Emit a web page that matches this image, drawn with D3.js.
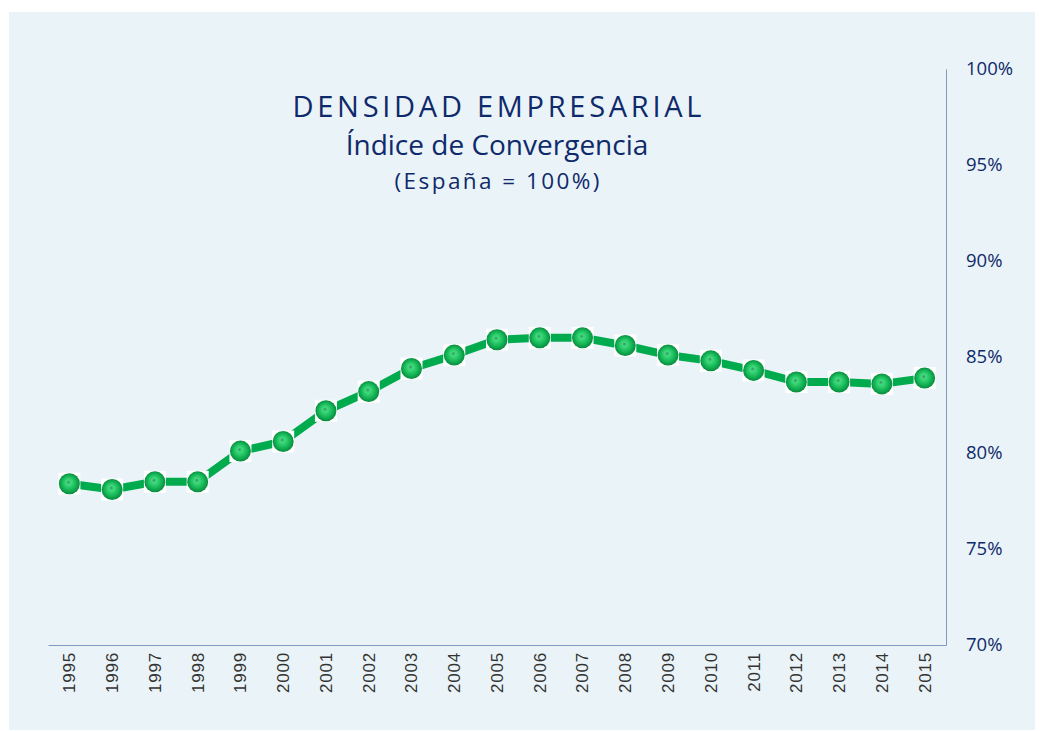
<!DOCTYPE html>
<html>
<head>
<meta charset="utf-8">
<script src="https://cdn.jsdelivr.net/npm/d3@7"></script>
<style>
  body { margin: 0; background: #fff; }
  .title { fill: #0f2a6b; font-family: "Open Sans", "Noto Sans", sans-serif; }
  .ylab { fill: #0f2a6b; font-family: "Open Sans", sans-serif; font-size: 18.5px; }
  .xlab { fill: #333; font-family: "Liberation Sans", Arial, sans-serif; font-size: 17px; letter-spacing: 0.8px; }
</style>
</head>
<body>
<div id="canvas"></div>
<script>
// data
var years = ["1995", "1996", "1997", "1998", "1999", "2000", "2001", "2002", "2003", "2004",
    "2005", "2006", "2007", "2008", "2009", "2010", "2011", "2012", "2013", "2014", "2015"];
var indice = [78.4, 78.1, 78.5, 78.5, 80.1, 80.6, 82.2, 83.2, 84.4, 85.1,
    85.9, 86.0, 86.0, 85.6, 85.1, 84.8, 84.3, 83.7, 83.7, 83.6, 83.9];
var yTicks = [70, 75, 80, 85, 90, 95, 100];
var titleLines = ["DENSIDAD EMPRESARIAL", "Índice de Convergencia", "(España = 100%)"];

function init() {
    var svg = d3.select("#canvas").append("svg")
        .attr("width", 1041)
        .attr("height", 731);

    var defs = svg.append("defs");
    var grad = defs.append("radialGradient")
        .attr("id", "ball")
        .attr("cx", "50%").attr("cy", "50%").attr("r", "55%")
        .attr("fx", "45%").attr("fy", "42%");
    grad.append("stop").attr("offset", "0%").attr("stop-color", "#3a8f63");
    grad.append("stop").attr("offset", "20%").attr("stop-color", "#3fdc7c");
    grad.append("stop").attr("offset", "65%").attr("stop-color", "#12b153");
    grad.append("stop").attr("offset", "100%").attr("stop-color", "#057f38");

    // panel
    svg.append("rect")
        .attr("x", 9).attr("y", 12)
        .attr("width", 1026).attr("height", 718)
        .style("fill", "#eaf3f7");

    var x = d3.scaleBand().domain(years).range([48, 946]);
    var y = d3.scaleLinear().domain([70, 100]).range([645, 69]);

    // axes
    var xAxis = svg.append("g")
        .attr("transform", "translate(0,645)")
        .call(d3.axisBottom(x).tickSize(0).tickPadding(0));
    xAxis.select(".domain").attr("stroke", "#8497c0");
    xAxis.selectAll("text")
        .attr("class", "xlab")
        .attr("fill", null)
        .attr("transform", "rotate(-90)")
        .attr("x", -7)
        .attr("y", 0)
        .attr("dy", "0.35em")
        .style("text-anchor", "end");
    xAxis.attr("font-size", null).attr("font-family", null);

    var yAxis = svg.append("g")
        .attr("transform", "translate(946,0)")
        .call(d3.axisRight(y).tickValues(yTicks).tickSize(0).tickPadding(20)
            .tickFormat(function (d) { return d + "%"; }));
    yAxis.select(".domain").attr("stroke", "#8497c0");
    yAxis.selectAll("text")
        .attr("class", "ylab")
        .attr("fill", null);
    yAxis.attr("font-size", null).attr("font-family", null);

    // title
    var title = svg.append("text")
        .attr("class", "title")
        .attr("text-anchor", "middle");
    title.append("tspan").attr("x", 497).attr("y", 117)
        .attr("font-size", 29)
        .attr("textLength", 409).attr("lengthAdjust", "spacing")
        .text(titleLines[0]);
    title.append("tspan").attr("x", 497).attr("y", 155)
        .attr("font-size", 28)
        .text(titleLines[1]);
    title.append("tspan").attr("x", 497).attr("y", 189)
        .attr("font-size", 22.5)
        .attr("textLength", 205).attr("lengthAdjust", "spacing")
        .text(titleLines[2]);

    // line
    var line = d3.line()
        .x(function (d, i) { return x(years[i]) + x.bandwidth() / 2; })
        .y(function (d) { return y(d); });
    svg.append("path")
        .datum(indice)
        .attr("d", line)
        .attr("fill", "none")
        .attr("stroke", "#00ab4e")
        .attr("stroke-width", 8)
        .attr("stroke-linejoin", "round");

    // markers
    var pts = svg.selectAll(".pt").data(indice).enter().append("g")
        .attr("class", "pt")
        .attr("transform", function (d, i) {
            return "translate(" + (x(years[i]) + x.bandwidth() / 2) + "," + y(d) + ")";
        });
    pts.append("rect")
        .attr("x", -11).attr("y", -11)
        .attr("width", 22).attr("height", 22)
        .style("fill", "#fff");
    pts.append("circle")
        .attr("r", 10.5)
        .style("fill", "url(#ball)");
}
window.onload = init;
</script>
</body>
</html>
